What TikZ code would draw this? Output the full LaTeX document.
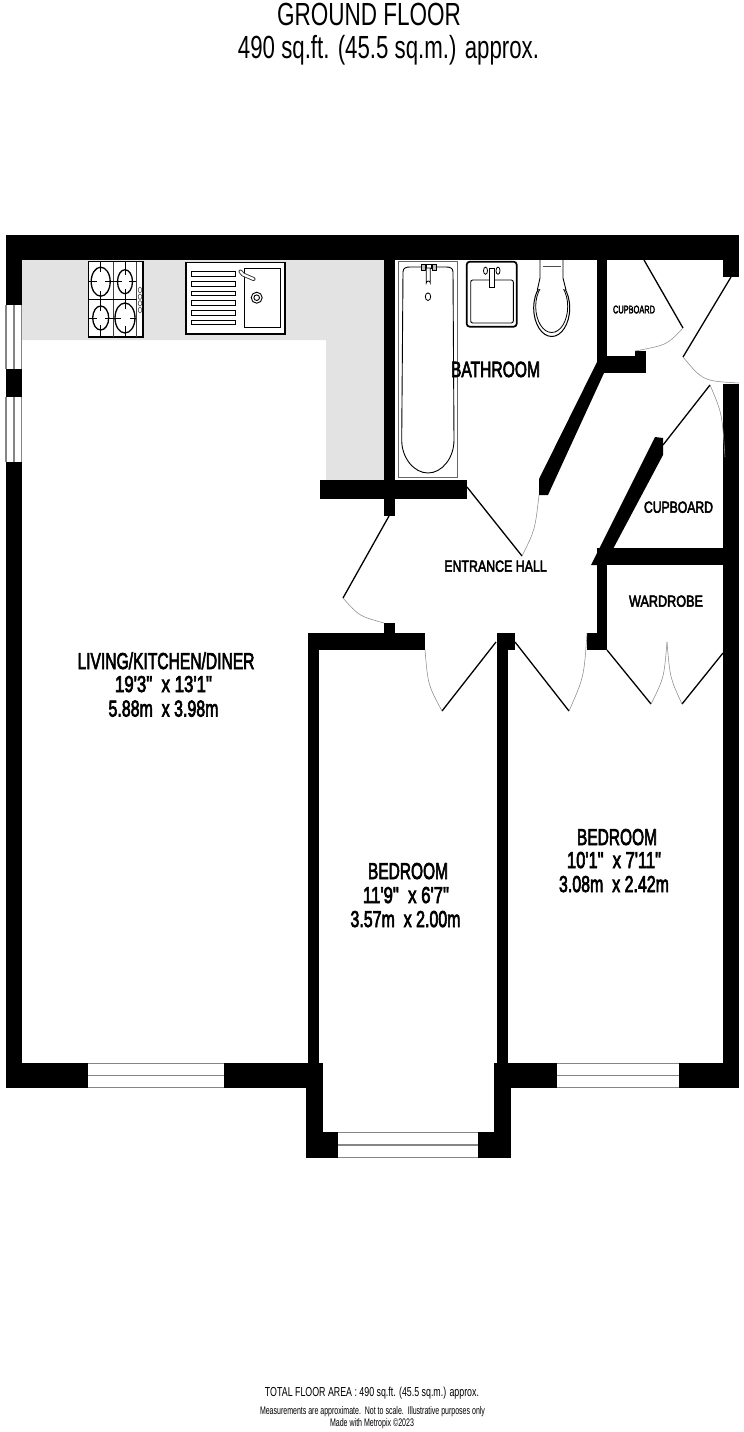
\documentclass[tikz,border=0pt]{standalone}
\usepackage{fontspec}
\usepackage{graphicx}
\setmainfont{Liberation Sans}
\newfontfamily\lblfont[FakeBold=3.5]{Liberation Sans}
\newcommand\fitlabel[3]{\resizebox{#1pt}{\height}{\fontsize{#2}{#2}\selectfont #3}}
\definecolor{kitchen}{HTML}{E3E3E3}
\definecolor{glass}{HTML}{858585}
\tikzset{
  wall/.style={fill=black,draw=none},
  winpane/.style={fill=white,draw=none},
  winline/.style={draw=glass,line width=1.5pt},
  leaf/.style={draw=black,line width=1.3pt},
  swing/.style={draw=black!45,line width=0.55pt},
  txt/.style={inner sep=0pt,outer sep=0pt,anchor=base},
  roomtxt/.style={txt,font=\lblfont},
}
\begin{document}
\begin{tikzpicture}[x=1pt,y=-1pt]
\useasboundingbox (0,0) rectangle (744,1432);
\fill[white] (0,0) rectangle (744,1432);
% kitchen worktop
\fill[kitchen] (22,260) -- (385,260) -- (385,481) -- (326,481) -- (326,340) -- (22,340) -- cycle;
% walls
\fill[wall] (5.5,235) rectangle (739,260);
\fill[wall] (5.5,235) rectangle (22,1088);
\fill[wall] (723,235) rectangle (739,277);
\fill[wall] (723,384) rectangle (739,1088);
\fill[wall] (384,260) rectangle (395,516);
\fill[wall] (320,480) rectangle (467,499);
\fill[wall] (384,623) rectangle (395,634);
\fill[wall] (308,633) rectangle (425,650);
\fill[wall] (308,650) rectangle (319,1063);
\fill[wall] (497,633) rectangle (515,650);
\fill[wall] (497,650) rectangle (508,1063);
\fill[wall] (587,633) rectangle (607,650);
\fill[wall] (597,548) rectangle (607,650);
\fill[wall] (597,548) rectangle (723,565);
\fill[wall] (655,437) -- (663,438) -- (663,455) -- (613,549) -- (597,565) -- (591,565) -- cycle;
\fill[wall] (597,260) rectangle (607,373);
\fill[wall] (597,356) rectangle (646,373);
\fill[wall] (635,351) rectangle (646,356);
\fill[wall] (597,362) -- (539,479) -- (539,495) -- (548,495) -- (604,373) -- cycle;
% bottom walls
\fill[wall] (5.5,1063) rectangle (322.7,1088);
\fill[wall] (494,1063) rectangle (739,1088);
\fill[wall] (305.6,1088) rectangle (322.7,1158);
\fill[wall] (494,1088) rectangle (510.7,1158);
\fill[wall] (322,1132) rectangle (338,1158);
\fill[wall] (477.5,1132) rectangle (495,1158);
% side windows
\fill[winpane] (5.5,305) rectangle (22,369);
\fill[winpane] (5.5,397) rectangle (22,462);
\draw[winline] (6.2,305) -- (6.2,369) (14,305) -- (14,369) (21.7,305) -- (21.7,369);
\draw[winline] (6.2,397) -- (6.2,462) (14,397) -- (14,462) (21.7,397) -- (21.7,462);
% bottom windows
\fill[winpane] (88,1063) rectangle (224,1088);
\draw[winline] (88,1063.7) -- (224,1063.7) (88,1075.5) -- (224,1075.5) (88,1087.5) -- (224,1087.5);
\fill[winpane] (556.7,1063) rectangle (678.7,1088);
\draw[winline] (556.7,1063.7) -- (678.7,1063.7) (556.7,1075.5) -- (678.7,1075.5) (556.7,1087.5) -- (678.7,1087.5);
\fill[winpane] (338,1132) rectangle (477.5,1158);
\draw[winline] (338,1132.7) -- (477.5,1132.7) (338,1145) -- (477.5,1145) (338,1157.5) -- (477.5,1157.5);
% doors
\draw[leaf] (389,516) -- (343,598);
\draw[swing] (343,598) .. controls (359,616) .. (384,623);
\draw[leaf] (496,642) -- (442,711);
\draw[swing] (425,650) .. controls (428,685) .. (442,711);
\draw[leaf] (515,642) -- (569,711);
\draw[swing] (569,711) .. controls (584,677) .. (587,633);
\draw[leaf] (467,487) -- (522,556);
\draw[swing] (522,556) .. controls (535,530) .. (539,495);
\draw[leaf] (607,650) -- (651,704);
\draw[swing] (651,704) .. controls (664,678) .. (667,642);
\draw[leaf] (723,653) -- (682,704);
\draw[swing] (682,704) .. controls (670,678) .. (667,642);
\draw[leaf] (644,260) -- (683,328);
\draw[swing] (683,328) .. controls (667,345) .. (635,351);
\draw[leaf] (731,277) -- (683,357);
\draw[swing] (683,357) .. controls (703,381) .. (739,383);
\draw[leaf] (663,445) -- (710,385);
\draw[swing] (710,385) .. controls (722,413) .. (725,457);
% hob
\draw[line width=1.6pt,fill=white] (88.5,261.5) rectangle (143,337);
\draw[line width=0.9pt,black!75] (113,261.5) -- (113,337) (136.7,261.5) -- (136.7,337);
\draw[line width=0.9pt] (88.5,299.3) -- (136.7,299.3);
\draw[line width=1.3pt,fill=white] (100.7,281.7) ellipse (9.5 and 14.5);
\draw[line width=1.3pt,fill=white] (125,281.7) ellipse (7.5 and 12);
\draw[line width=1.3pt,fill=white] (100.7,318) ellipse (8 and 12);
\draw[line width=1.3pt,fill=white] (125,318) ellipse (10 and 15);
\draw[line width=0.8pt]
  (89,281.7) -- (97,281.7) (105,281.7) -- (122,281.7) (129,281.7) -- (136,281.7)
  (100.7,262) -- (100.7,272) (100.7,291) -- (100.7,299) (125,262) -- (125,275) (125,289) -- (125,299)
  (89,318) -- (97,318) (105,318) -- (121,318) (130,318) -- (136,318)
  (100.7,300) -- (100.7,311) (100.7,325) -- (100.7,337) (125,300) -- (125,309) (125,326) -- (125,337);
\foreach \ky in {290,296.7,303.3,310}{\draw[line width=0.6pt,black!70,fill=white] (140,\ky) ellipse (1.8 and 2.7);}
% sink
\draw[line width=1.6pt,fill=white] (186,262.3) rectangle (285,333.7);
\draw[line width=1pt] (244.3,268) rectangle (280,327);
\foreach \by in {271.7,281.7,291,300.7,310.3,320}{\draw[line width=0.8pt] (191,\by) rectangle (235.7,\by+4.7);}
\draw[line width=0.9pt] (256.7,297.7) circle (5.5);
\draw[line width=0.9pt] (256.7,297.7) circle (2.8);
\draw[line width=4pt,line cap=round,line join=round,black!80] (240.5,271.5) -- (243,274.5) -- (253.5,279);
\draw[line width=2.2pt,line cap=round,line join=round,white] (240.5,271.5) -- (243,274.5) -- (253.5,279);
% bath
\draw[draw=black!60,line width=0.9pt,fill=white] (398.3,261) rectangle (457.3,477.3);
\draw[line width=0.9pt] (403,272) .. controls (403,268) and (406,267) .. (410,267) -- (446,267)
  .. controls (450,267) and (453,268) .. (453,272) -- (454,440) .. controls (454,458) and (442,473) .. (428,473)
  .. controls (414,473) and (401.7,458) .. (401.7,440) -- cycle;
\draw[line width=0.7pt,fill=black!25] (421,264) rectangle (425,270) (432,264) rectangle (436,270);
\draw[line width=0.8pt,fill=white] (426,264.5) rectangle (431,268);
\draw[line width=0.8pt,fill=white] (426.3,268) -- (426.3,283) arc (180:0:2 and -2) -- (430.3,268) -- cycle;
\draw[line width=0.8pt] (428,296.7) ellipse (2.7 and 3.8);
% basin
\draw[line width=1.7pt,fill=white,rounded corners=3pt] (466.7,261.7) rectangle (516.7,326.7);
\draw[line width=0.9pt,rounded corners=2pt] (470.7,280) rectangle (513.3,323);
\draw[line width=0.8pt,fill=white] (485.5,270.7) ellipse (2 and 3.6) (498,270.7) ellipse (2 and 3.6);
\draw[line width=0.9pt,fill=white] (489,268) rectangle (494.3,287);
% toilet
\draw[line width=1pt,fill=white] (551.7,308) ellipse (18 and 28.5);
\draw[line width=0.8pt] (551.7,306.5) ellipse (16 and 26);
\path[fill=white] (540,260) -- (563,260) -- (563,278) -- (566,289) -- (537.5,289) -- (540,278) -- cycle;
\draw[line width=0.9pt] (540,260) -- (540,278) -- (537.3,290);
\draw[line width=0.9pt] (563,260) -- (563,278) -- (566,290);
\draw[line width=0.9pt,black!70] (542.5,266.7) -- (560.5,266.7);
% labels
\node[txt] (title1) at (369,25) {\fitlabel{184}{32}{GROUND FLOOR}};
\node[txt] (title2) at (388.5,58) {\fitlabel{301}{32}{490 sq.ft. (45.5 sq.m.) approx.}};
\node[roomtxt] (bath) at (495.5,377) {\fitlabel{89}{22}{BATHROOM}};
\node[roomtxt] (cupsmall) at (634,313.3) {\fitlabel{42}{11}{CUPBOARD}};
\node[roomtxt] (cup) at (678.5,512.7) {\fitlabel{69}{16}{CUPBOARD}};
\node[roomtxt] (hall) at (495.5,571.7) {\fitlabel{102.5}{16}{ENTRANCE HALL}};
\node[roomtxt] (ward) at (666,606.7) {\fitlabel{74}{16}{WARDROBE}};
\node[roomtxt] (liv1) at (166,669) {\fitlabel{177}{23}{LIVING/KITCHEN/DINER}};
\node[roomtxt] (liv2) at (163.5,692) {\fitlabel{97}{23}{19'3"\ \ x 13'1"}};
\node[roomtxt] (liv3) at (163.5,716.5) {\fitlabel{110}{23}{5.88m\ \ x 3.98m}};
\node[roomtxt] (bed1a) at (408,879) {\fitlabel{80}{23}{BEDROOM}};
\node[roomtxt] (bed1b) at (406,903) {\fitlabel{86}{23}{11'9"\ \ x 6'7"}};
\node[roomtxt] (bed1c) at (405.5,927) {\fitlabel{110}{23}{3.57m\ \ x 2.00m}};
\node[roomtxt] (bed2a) at (617,845) {\fitlabel{80}{23}{BEDROOM}};
\node[roomtxt] (bed2b) at (614,868) {\fitlabel{94}{23}{10'1"\ \ x 7'11"}};
\node[roomtxt] (bed2c) at (614,892) {\fitlabel{110}{23}{3.08m\ \ x 2.42m}};
\node[txt] (foot1) at (372,1396.7) {\fitlabel{214}{13}{TOTAL FLOOR AREA : 490 sq.ft. (45.5 sq.m.) approx.}};
\node[txt] (foot2) at (372.5,1414) {\fitlabel{225}{11}{Measurements are approximate.\ \ Not to scale.\ \ Illustrative purposes only}};
\node[txt] (foot3) at (372,1426.7) {\fitlabel{84}{11}{Made with Metropix ©2023}};
\end{tikzpicture}
\end{document}
